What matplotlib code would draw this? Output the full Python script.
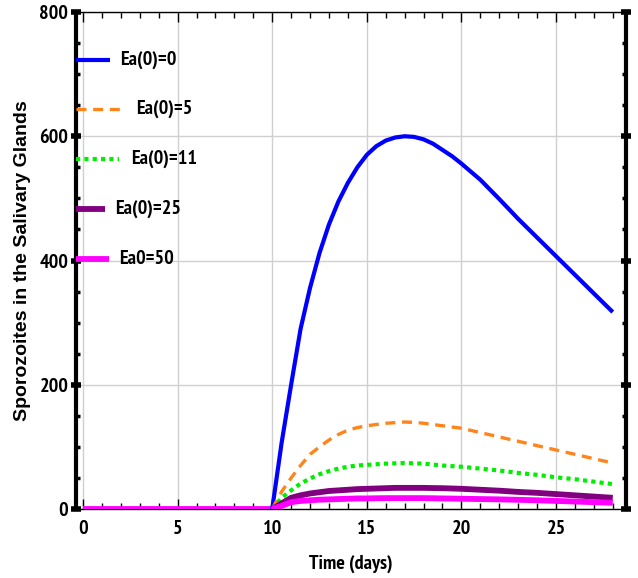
import matplotlib
matplotlib.use("Agg")
import matplotlib.pyplot as plt
from matplotlib.lines import Line2D
from matplotlib.ticker import MultipleLocator
import logging
logging.getLogger('matplotlib.font_manager').setLevel(logging.ERROR)

NARROW = ['Liberation Sans Narrow', 'Arial Narrow', 'PT Sans Narrow', 'Archivo Narrow',
          'Roboto Condensed', 'Liberation Sans', 'DejaVu Sans']
plt.rcParams['font.family'] = NARROW

# ---- data ----
t_plateau = [0, 10]
t = [10, 10.5, 11, 11.5, 12, 12.5, 13, 13.5, 14, 14.5, 15, 15.5, 16, 16.5, 17, 17.5, 18, 18.5,
     19, 19.5, 20, 21, 22, 23, 24, 25, 26, 27, 28]
ea0 = [0, 107, 200, 290, 356, 412, 458, 495, 525, 550, 570, 584, 593, 598, 600, 599, 595, 588,
       578, 568, 556, 530, 499, 467, 437, 407, 377, 347, 317]
ea5 = [0, 28, 50, 70, 88, 100, 111, 120, 127, 131, 134, 136, 138, 139, 140, 139.5, 138, 136,
       134, 132, 130, 123, 116, 109, 102, 95, 88, 81, 74]
ea11 = [0, 18, 30, 41, 49, 56, 61, 65, 68, 70, 71, 72, 73, 73.5, 74, 73.5, 73, 71.5,
        70, 69, 68, 65, 62, 58, 55, 51, 48, 44, 40]
ea25 = [0, 9, 18, 22, 25, 27, 29, 30, 31, 32, 32.5, 33, 33.5, 34, 34, 34, 34, 33.7,
        33.5, 33, 32.5, 31, 29.5, 27.5, 26, 24, 22, 20, 18]
ea50 = [0, 5, 11, 13, 14, 15, 15.5, 16, 16.5, 17, 17, 17.3, 17.5, 17.5, 17.5, 17.5, 17.5, 17.3,
        17, 16.8, 16.5, 16, 15.5, 14.8, 14, 13, 12, 11, 10]
labels = ["Ea(0)=0", "Ea(0)=5", "Ea(0)=11", "Ea(0)=25", "Ea0=50"]
x_ticks = [0, 5, 10, 15, 20, 25]
y_ticks = [0, 200, 400, 600, 800]

fig = plt.figure(figsize=(6.38, 5.78), dpi=100)
ax = fig.add_axes([76/638, 1-509/578, 550/638, 497/578])

styles = [
    dict(color='#0000ff', lw=3.0, ls='-'),
    dict(color='#ff8419', lw=2.4, ls=(0, (3.0, 2.0))),
    dict(color='#00ee00', lw=3.0, ls=(0, (1.0, 1.0))),
    dict(color='#800080', lw=4.2, ls='-'),
    dict(color='#ff00ff', lw=4.2, ls='-'),
]
series = [ea0, ea5, ea11, ea25, ea50]

ax.plot(t_plateau, [0, 0], color='#ff00ff', lw=4.2, solid_capstyle='butt', zorder=3)
for ys, st in zip(series, styles):
    ax.plot(t, ys, zorder=4, solid_capstyle='butt', solid_joinstyle='round', **st)

ax.set_xlim(-0.37, 28.7)
ax.set_ylim(0, 800)
ax.set_xticks(x_ticks)
ax.set_yticks(y_ticks)
ax.xaxis.set_minor_locator(MultipleLocator(1))
ax.yaxis.set_minor_locator(MultipleLocator(50))
ax.grid(True, which='major', color='#d0d0d0', lw=1.0, zorder=0)
ax.set_axisbelow(True)

for s in ['top', 'bottom']:
    ax.spines[s].set_linewidth(1.0)
for s in ['left', 'right']:
    ax.spines[s].set_linewidth(3.0)

ax.tick_params(axis='x', which='major', direction='in', length=7, width=1, top=True, bottom=True, pad=8)
ax.tick_params(axis='x', which='minor', direction='in', length=4, width=1, top=True, bottom=True)
ax.tick_params(axis='y', which='major', direction='inout', length=7, width=4, left=True, right=True, pad=2)
ax.tick_params(axis='y', which='minor', direction='in', length=3, width=2.5, left=True, right=True)

for lab in ax.get_xticklabels() + ax.get_yticklabels():
    lab.set_fontsize(14.5)
    lab.set_fontweight('bold')

ax.set_xlabel("Time (days)", fontsize=14.5, fontweight='bold', labelpad=12)
ax.set_ylabel("Sporozoites in the Salivary Glands", fontsize=14, fontweight='bold',
              family=['Liberation Sans', 'DejaVu Sans'], labelpad=6)

# legend (manual, Mathematica style)
leg_y = [60, 109, 159, 209, 259]
line_end = [110, 123, 119, 105, 109]
text_x = [120, 136, 131, 115, 119]
for i in range(5):
    yf = 1 - (leg_y[i] - 12) / 497
    x1 = (line_end[i] - 76) / 550
    st = styles[i]
    ax.add_line(Line2D([0.0, x1], [yf, yf], transform=ax.transAxes, color=st['color'],
                       lw=st['lw'], ls=st['ls'], solid_capstyle='butt', zorder=5, clip_on=False))
    ax.text((text_x[i] - 76) / 550, yf, labels[i], transform=ax.transAxes, fontsize=14.5,
            fontweight='bold', va='center', ha='left', zorder=5)

fig.savefig("out.png", dpi=100)
